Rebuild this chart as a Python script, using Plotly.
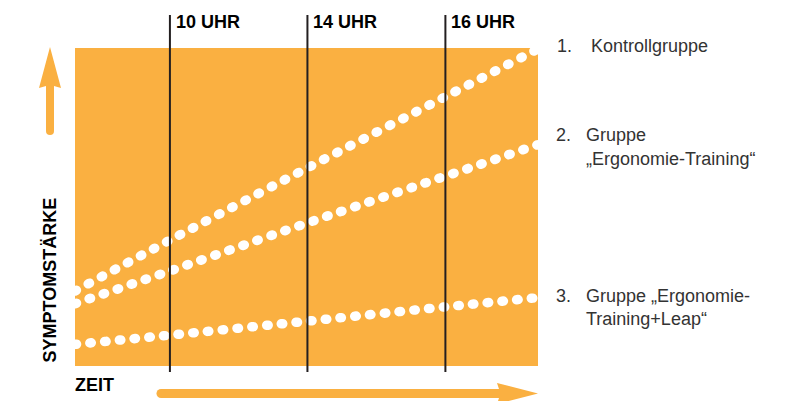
import plotly.graph_objects as go

# ---- data ----
x_pts = [0, 2.05, 5.02, 8.0, 10]
kontroll = [2.36, 3.96, 6.23, 8.47, 9.97]
ergo = [1.96, 2.99, 4.50, 5.97, 6.96]
ergo_leap = [0.68, 0.97, 1.41, 1.86, 2.15]
series_names = ["Kontrollgruppe", "Gruppe „Ergonomie-Training“", "Gruppe „Ergonomie-Training+Leap“"]
hour_labels = ["10 UHR", "14 UHR", "16 UHR"]
hour_pos = [2.05, 5.02, 8.0]

ORANGE = "#FAB041"
DARK = "#231F20"
TXT = "#333333"
FONT = "Liberation Sans, Arial, sans-serif"

W, H = 785, 401
L, R, T, B = 75, 247, 48, 35
PW, PH = W - L - R, H - T - B


def xp(px):
    return (px - L) / PW


def yp(py):
    return (H - B - py) / PH


fig = go.Figure()
for ys, nm in zip([kontroll, ergo, ergo_leap], series_names):
    fig.add_trace(go.Scatter(
        x=x_pts, y=ys, mode="lines", name=nm, showlegend=False,
        line=dict(color="white", width=9.5, dash="1.5px,13.3px", shape="spline", smoothing=0.6),
        hoverinfo="skip"))

shapes = []
# orange background
shapes.append(dict(type="rect", xref="x", yref="y", x0=0, x1=10, y0=0, y1=10,
                   fillcolor=ORANGE, line=dict(width=0), layer="below"))
# vertical hour lines
for hx in hour_pos:
    shapes.append(dict(type="line", xref="x", yref="paper", x0=hx, x1=hx,
                       y0=yp(372), y1=yp(15), line=dict(color=DARK, width=2), layer="above"))

# vertical arrow (up)
shapes.append(dict(type="path", xref="paper", yref="paper",
                   path=f"M {xp(46)},{yp(131)} L {xp(46)},{yp(86)} L {xp(39)},{yp(88)} L {xp(50)},{yp(47)} "
                        f"L {xp(61)},{yp(88)} L {xp(54)},{yp(86)} L {xp(54)},{yp(131)} Z",
                   fillcolor=ORANGE, line=dict(width=0)))
shapes.append(dict(type="circle", xref="paper", yref="paper",
                   x0=xp(46), x1=xp(54), y0=yp(135), y1=yp(127), fillcolor=ORANGE, line=dict(width=0)))
# horizontal arrow (right)
shapes.append(dict(type="path", xref="paper", yref="paper",
                   path=f"M {xp(161)},{yp(389)} L {xp(499)},{yp(389)} L {xp(497)},{yp(383)} L {xp(538)},{yp(393.5)} "
                        f"L {xp(497)},{yp(404)} L {xp(499)},{yp(398)} L {xp(161)},{yp(398)} Z",
                   fillcolor=ORANGE, line=dict(width=0)))
shapes.append(dict(type="circle", xref="paper", yref="paper",
                   x0=xp(156.5), x1=xp(165.5), y0=yp(398), y1=yp(389), fillcolor=ORANGE, line=dict(width=0)))

ann = []
for lbl, hx in zip(hour_labels, hour_pos):
    ann.append(dict(xref="x", x=hx, xanchor="left", xshift=4, yref="paper", y=yp(22), yanchor="middle",
                    text=f"<b>{lbl}</b>", showarrow=False, font=dict(family=FONT, size=18, color="black")))

# axis titles
ann.append(dict(xref="paper", x=xp(49.5), yref="paper", y=yp(280), xanchor="center", yanchor="middle",
                text="<b>SYMPTOMSTÄRKE</b>", textangle=-90, showarrow=False,
                font=dict(family=FONT, size=18, color="black")))
ann.append(dict(xref="paper", x=xp(73), yref="paper", y=yp(385), xanchor="left", yanchor="middle",
                text="<b>ZEIT</b>", showarrow=False, font=dict(family=FONT, size=18, color="black")))

# right-side labels
rlabels = [
    ("1.", 557, [("Kontrollgruppe", 591, 46)]),
    ("2.", 556, [("Gruppe", 586, 135), ("„Ergonomie-Training“", 586, 159)]),
    ("3.", 556, [("Gruppe „Ergonomie-", 586, 296), ("Training+Leap“", 586, 319)]),
]
for num, nx, lines in rlabels:
    ann.append(dict(xref="paper", x=xp(nx), xanchor="left", xshift=-2, yref="paper", y=yp(lines[0][2]),
                    yanchor="middle", text=num, showarrow=False, font=dict(family=FONT, size=18, color=TXT)))
    for t, tx, ty in lines:
        ann.append(dict(xref="paper", x=xp(tx), xanchor="left", xshift=-2, yref="paper", y=yp(ty),
                        yanchor="middle", text=t, showarrow=False, font=dict(family=FONT, size=18, color=TXT)))

fig.update_layout(
    width=W, height=H, margin=dict(l=L, r=R, t=T, b=B),
    paper_bgcolor="white", plot_bgcolor="white",
    xaxis=dict(range=[0, 10], visible=False, fixedrange=True),
    yaxis=dict(range=[0, 10], visible=False, fixedrange=True),
    shapes=shapes, annotations=ann, showlegend=False,
)

post = """
document.body.style.margin = '0';
document.body.style.padding = '0';
document.documentElement.style.overflow = 'hidden';
var gd = document.getElementById('{plot_id}');
function roundCaps(){
  gd.querySelectorAll('.scatterlayer .js-line').forEach(function(p){p.style.strokeLinecap='round';});
}
roundCaps();
gd.on('plotly_afterplot', roundCaps);
"""
fig.write_html("out.html", config={"displayModeBar": False}, post_script=post)
